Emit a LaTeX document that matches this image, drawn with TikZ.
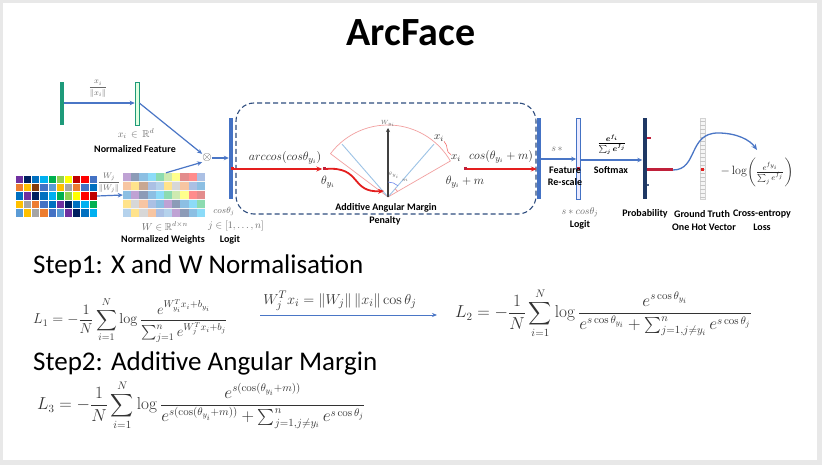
\documentclass[tikz,border=0pt]{standalone}
\usepackage{amsmath,amssymb}
\usepackage[no-math]{fontspec}
\setmainfont{Carlito}
\usetikzlibrary{arrows.meta,calc}
\definecolor{barblue}{HTML}{4472C4}
\definecolor{navyb}{HTML}{1F3864}
\definecolor{tealg}{HTML}{1E9A7A}
\definecolor{arrblue}{HTML}{4A76C6}
\definecolor{redA}{HTML}{E41E1E}
\definecolor{darkredA}{HTML}{C0203A}
\definecolor{dashblue}{HTML}{2F4D7E}
\definecolor{pinkA}{HTML}{F2A0A0}
\definecolor{lblueA}{HTML}{9DC3E6}
\definecolor{graytxt}{HTML}{6A6A6A}
\definecolor{pu}{HTML}{7030A0}
\definecolor{nv}{HTML}{002060}
\definecolor{bl}{HTML}{0070C0}
\definecolor{sb}{HTML}{00B0F0}
\definecolor{gr}{HTML}{00B050}
\definecolor{lg}{HTML}{92D050}
\definecolor{ye}{HTML}{FFFF00}
\definecolor{dr}{HTML}{C00000}
\definecolor{rd}{HTML}{FF0000}
\definecolor{or}{HTML}{ED7D31}
\definecolor{go}{HTML}{FFC000}
\definecolor{gy}{HTML}{A5A5A5}
\definecolor{br}{HTML}{843C0C}
\definecolor{bg}{HTML}{4472C4}
\definecolor{tb}{HTML}{5B9BD5}
\tikzset{
  lbl/.style={font=\bfseries\fontsize{10}{11.5}\selectfont, inner sep=0, align=center},
  mlbl/.style={text=graytxt, inner sep=0, font=\fontsize{10}{12}\selectfont},
  mbig/.style={text=black!85, inner sep=0, font=\fontsize{13}{15}\selectfont},
  barr/.style={draw=arrblue, line width=1.2pt, -{Stealth[length=5pt,width=4.5pt]}},
  redarr/.style={draw=redA, line width=1.6pt, -{Stealth[length=6pt,width=5pt]}},
  vbar/.style={minimum width=4pt, minimum height=81pt, inner sep=0},
  rsq/.style={fill=darkredA, minimum width=3pt, minimum height=3pt, inner sep=0},
  eqn/.style={inner sep=0, anchor=west, text=black!80, font=\fontsize{14.5}{17}\selectfont},
  stepttl/.style={inner sep=0, anchor=west, font=\fontsize{27}{30}\selectfont}
}
\begin{document}
\begin{tikzpicture}[x=1pt,y=-1pt]
\useasboundingbox (0,0) rectangle (822,465);
\fill[gray!18] (0,0) rectangle (822,465);
\fill[white] (3,3) rectangle (817,460);

% title
\node[font=\bfseries\fontsize{40}{44}\selectfont, inner sep=0] (title) at (411,33) {ArcFace};

% feature branch
\node[vbar, minimum height=43pt, fill=tealg] (g1) at (61.5,104) {};
\node[vbar, minimum height=43pt, fill=green!12, draw=tealg, line width=0.6pt] (g2) at (137,104) {};
\draw[barr] (g1.east |- 0,103) -- (g2.west |- 0,103);
\node[mlbl, font=\fontsize{8}{9}\selectfont] (xn) at (98,89) {$\dfrac{x_i}{\|x_i\|}$};
\node[mlbl] (xr) at (136,134) {$x_i \,\in\, \mathbb{R}^d$};
\node[lbl] (nf) at (135,149) {Normalized Feature};

\node[inner sep=0, font=\fontsize{12}{12}\selectfont, text=black!75] (ot) at (207,158) {$\otimes$};
\draw[barr] (g2.east |- 0,103) -- (ot.north west);

% weight grids
\node[minimum width=82pt, minimum height=42pt, inner sep=0] (w1) at (56,196) {};
\node[minimum width=82pt, minimum height=44pt, inner sep=0] (w2) at (164,195) {};
\foreach \r/\lst in {0/{pu,nv,bl,sb,gr,lg,ye,dr,rd,bg},1/{or,go,br,bg,tb,go,gy,or,bg,bl},2/{bl,pu,nv,bl,sb,gr,lg,ye,rd,dr},3/{go,gy,or,bg,bl,pu,nv,bl,sb,gr},4/{tb,go,gy,or,bg,tb,pu,nv,bl,sb}}{
  \foreach \c [count=\k from 0] in \lst {
    \filldraw[fill=\c, draw=white, line width=0.6pt] (15+\k*8.2,175+\r*8.4) rectangle ++(8.2,8.4);
    \fill[fill=\c!45] (123+\k*8.2,173+\r*8.8) rectangle ++(8.2,8.8);
  }
}
\foreach \r in {1,2,3,4} \draw[white!92!gray, line width=0.6pt] (123,173+\r*8.8) -- (205,173+\r*8.8);
\draw[barr] (w1.east) -- (w2.west);
\node[mlbl, font=\fontsize{8}{9}\selectfont] (wn) at (109,183) {$\dfrac{W_j}{\|W_j\|}$};
\draw[barr] ($(w2.north)+(2,0)$) -- (ot.south west);
\node[mlbl] (wr) at (165,226) {$W\in\mathbb{R}^{d\times n}$};
\node[mlbl] (jr) at (236,226) {$j\in[1,\ldots,n]$};
\node[mlbl, font=\fontsize{9}{10}\selectfont] (cj) at (224,211) {$cos\theta_j$};
\node[lbl] (nw) at (163,240) {Normalized Weights};
\node[lbl] (lg1) at (230,240) {Logit};

% logit bar
\node[vbar, fill=barblue] (lb) at (231,159) {};
\draw[barr] (ot.east) -- (lb.west |- ot);

% dashed box
\node[draw=dashblue, dashed, dash pattern=on 5pt off 3pt, line width=1.1pt, rounded corners=18pt,
      minimum width=300pt, minimum height=111pt, inner sep=0] (box) at (386,158.5) {};

% fan
\coordinate (C) at (388,197);
\draw[pinkA, line width=0.7pt, fill=white] (C) -- ++(-143:72) arc[start angle=-143, end angle=-30, radius=72] -- cycle;
\draw[lblueA, line width=0.9pt] (C) -- ++(-131:70);
\draw[lblueA, line width=0.9pt] (C) -- ++(-49:70);
\coordinate (Wt) at (388,128);
\draw[black!75, line width=1.6pt, -{Stealth[length=4pt,width=4pt]}] (C) -- (Wt);
\node[mlbl, font=\fontsize{6}{7}\selectfont, anchor=south] (wy) at (388,127) {$W_{y_i}$};
\draw[lblueA!70!blue, line width=0.6pt] ($(C)+(-90:15)$) arc[start angle=-90, end angle=-49, radius=15];
\draw[pinkA!80!red, line width=0.6pt] ($(C)+(-49:11)$) arc[start angle=-49, end angle=-30, radius=11];
\node[mlbl, font=\fontsize{5}{6}\selectfont] (tys) at (394,175) {$\theta_{y_i}$};
\node[mlbl, font=\fontsize{5}{6}\selectfont] (ms) at (405,180) {$m$};
\node[mbig, font=\fontsize{11}{12}\selectfont] (x1) at (439,138) {$x_i$};
\node[mbig, font=\fontsize{11}{12}\selectfont] (x2) at (456,158) {$x_i$};
\draw[pinkA!70!red, line width=0.6pt] (x1.south east) .. controls (449,146) and (445,152) .. (x2.north west);

% red arrows
\node[rsq] (ra) at (324,169) {};
\node[rsq, fill=redA] (ra0) at (232,169) {};
\draw[redarr] (ra0) -- (ra.west);
\node[mbig] (acl) at (285,158) {$arccos(cos\theta_{y_i})$};
\node[mbig] (th1) at (328,182) {$\theta_{y_i}$};
\draw[redarr, line width=1.8pt] (ra.east) .. controls (362,166) and (350,193) .. (384,191);
\node[mbig] (th2) at (465,182) {$\theta_{y_i}+m$};
\node[rsq] (rb0) at (465,169) {};
\node[vbar, fill=barblue] (rb) at (539,158.5) {};
\draw[redarr] (rb0.east) -- (rb.west |- rb0);
\node[mbig] (cl) at (501,157) {$cos(\theta_{y_i}+m)$};

\node[lbl] (pen) at (386,208) {Additive Angular Margin};
\node[lbl] (pen2) at (385,221) {Penalty};

% rescale
\node[vbar, fill=blue!8, draw=barblue, line width=0.6pt] (lbb) at (578.5,158.5) {};
\node[rsq] at (578.5,169) {};
\draw[barr] (rb.east |- 0,159) -- (lbb.west |- 0,159);
\node[mlbl] (ss) at (557,149) {$s\,*$};
\node[lbl] (fr) at (565,176.5) {Feature\\Re-scale};
\node[mlbl] (sc) at (580,212) {$s*cos\theta_j$};
\node[lbl] (lg2) at (580,225) {Logit};

% softmax
\node[vbar, fill=navyb] (pb) at (644.5,158.5) {};
\draw[barr] (lbb.east |- 0,160) -- (pb.west |- 0,160);
\node[inner sep=0, font=\fontsize{11}{12}\selectfont] (smf) at (612,145) {$\boldsymbol{\frac{e^{f_i}}{\sum_j e^{f_j}}}$};
\node[lbl] (sm) at (611,170) {Softmax};
\draw[darkredA, line width=1.4pt] (647,138) -- (651,138);
\draw[navyb!80, line width=1.2pt] (647,185) -- (649,185);
\coordinate (pr) at (673,170);
\draw[darkredA, line width=3pt] (pb.east |- pr) -- (pr);
\node[lbl] (prob) at (645,214) {Probability};

% ground truth
\node[minimum width=5pt, minimum height=81pt, inner sep=0, fill=gray!8, draw=gray!35, line width=0.4pt] (gt) at (702.5,158.5) {};
\foreach \yy in {121,125,...,197} \draw[gray!45, line width=0.3pt] (700,\yy) -- (705,\yy);
\node[rsq, fill=redA] at (702.5,170) {};
\coordinate (ce) at (757,150);
\draw[draw=arrblue, line width=1.3pt, -{Stealth[length=6pt,width=5pt]}] (pr) .. controls (698,170) and (688,133) .. (718,133) .. controls (737,133) and (750,140) .. (ce);
\node[mbig, font=\fontsize{12}{14}\selectfont] (loss) at (757,172) {$-\log\!\left(\frac{e^{f_{y_i}}}{\sum_j e^{f_j}}\right)$};
\node[lbl] (gt1) at (702,214) {Ground Truth};
\node[lbl] (gt2) at (704,227) {One Hot Vector};
\node[lbl] (ce1) at (762,214) {Cross-entropy};
\node[lbl] (ce2) at (762,227) {Loss};

% step 1
\node[stepttl] (s1) at (33,266) {Step1: X and W Normalisation};
\node[eqn] (L1) at (33,320) {$\displaystyle L_1=-\frac{1}{N}\sum_{i=1}^{N}\log\frac{e^{W_{y_i}^Tx_i+b_{y_i}}}{\sum_{j=1}^{n}e^{W_j^Tx_i+b_j}}$};
\coordinate (aa) at (260,315);
\coordinate (ab) at (437,315);
\draw[draw=arrblue, line width=1pt, -{Stealth[length=5pt,width=4pt]}] (aa) -- (ab);
\node[inner sep=0, text=black!80, font=\fontsize{15.5}{17}\selectfont] (eqa) at (340,301) {$W_j^Tx_i=\|W_j\|\,\|x_i\|\cos\theta_j$};
\node[eqn, font=\fontsize{16}{18}\selectfont] (L2) at (455,313) {$\displaystyle L_2=-\frac{1}{N}\sum_{i=1}^{N}\log\frac{e^{s\cos\theta_{y_i}}}{e^{s\cos\theta_{y_i}}+\sum_{j=1,j\neq y_i}^{n}e^{s\cos\theta_j}}$};

% step 2
\node[stepttl] (s2) at (33,363) {Step2: Additive Angular Margin};
\node[eqn, font=\fontsize{16}{18}\selectfont] (L3) at (37,405) {$\displaystyle L_3=-\frac{1}{N}\sum_{i=1}^{N}\log\frac{e^{s(\cos(\theta_{y_i}+m))}}{e^{s(\cos(\theta_{y_i}+m))}+\sum_{j=1,j\neq y_i}^{n}e^{s\cos\theta_j}}$};
\end{tikzpicture}
\end{document}
